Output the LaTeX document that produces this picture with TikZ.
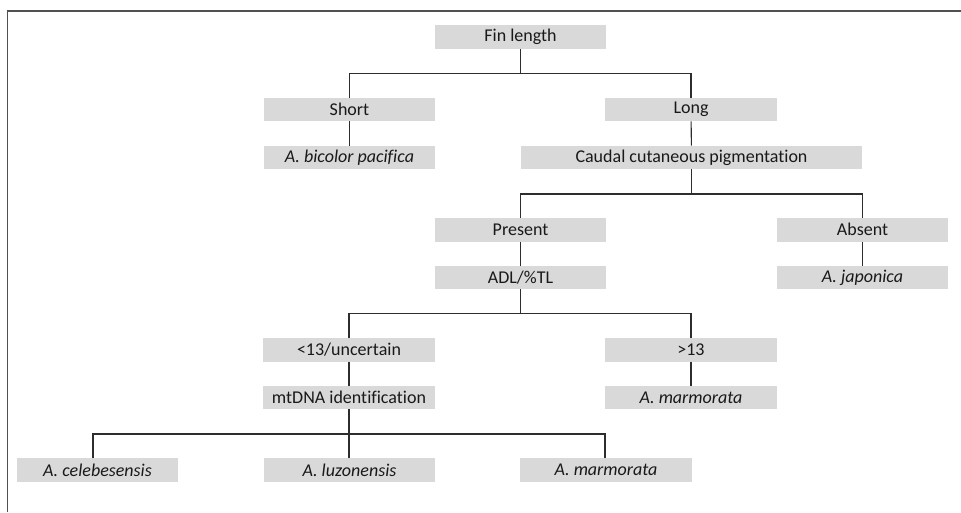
\documentclass[tikz,border=0pt]{standalone}
\usepackage{fontspec}
\setmainfont{Carlito}[Ligatures=NoCommon]
\definecolor{boxgray}{RGB}{217,217,217}
\definecolor{linegray}{RGB}{45,45,45}
\definecolor{framegray}{RGB}{80,80,80}
\begin{document}
\begin{tikzpicture}[x=1pt,y=-1pt,
  box/.style={fill=boxgray, draw=none, inner sep=0pt, minimum height=23.5pt, font=\fontsize{18}{20}\selectfont, text=black!90},
  w170/.style={minimum width=171pt},
  conn/.style={draw=linegray, line width=1.1pt}]
\useasboundingbox (0,0) rectangle (961,512);
\draw[framegray, line width=1.4pt] (7.5,512) -- (7.5,11) -- (961,11);

\node[box,w170] (fin) at (520.5,37) {Fin length};
\node[box,w170] (short) at (349.5,109.5) {Short};
\node[box,minimum width=172pt] (long) at (691,109.5) {Long};
\node[box,w170] (bicolor) at (349.5,157.5) {\itshape A. bicolor pacifica};
\node[box,minimum width=341pt] (caudal) at (691.5,157.5) {Caudal cutaneous pigmentation};
\node[box,w170] (present) at (520.5,229.75) {Present};
\node[box,w170] (absent) at (862.5,229.75) {Absent};
\node[box,w170] (adl) at (520.5,277.5) {ADL/\%TL};
\node[box,w170] (japonica) at (862.5,277.5) {\itshape A. japonica};
\node[box,minimum width=172pt] (lt) at (349,350) {<13/uncertain};
\node[box,minimum width=172pt] (gt) at (691,350) {>13};
\node[box,minimum width=172pt] (mtdna) at (349,397.5) {mtDNA identification};
\node[box,minimum width=172pt] (marm1) at (691,397.5) {\itshape A. marmorata};
\node[box,minimum width=161pt] (celeb) at (97.5,470) {\itshape A. celebesensis};
\node[box,w170] (luzon) at (349.5,470) {\itshape A. luzonensis};
\node[box,minimum width=172pt] (marm2) at (606,470) {\itshape A. marmorata};

\coordinate (b1) at (520.5,73.5);
\coordinate (b2) at (691.5,194);
\coordinate (b3) at (520.5,313.5);
\coordinate (b4) at (349,434);
\coordinate (c1) at (93,458);

\draw[conn] (fin.south) -- (b1);
\draw[conn] (short.north) |- (b1) -| (long.north);
\draw[conn] (short) -- (bicolor);
\draw[conn] (long) -- (caudal);
\draw[conn] (caudal.south) -- (b2);
\draw[conn] (present.north) |- (b2) -| (absent.north);
\draw[conn] (present) -- (adl);
\draw[conn] (absent) -- (japonica);
\draw[conn] (adl.south) -- (b3);
\draw[conn] (lt.north) |- (b3) -| (gt.north);
\draw[conn] (lt) -- (mtdna);
\draw[conn] (gt) -- (marm1);
\draw[conn] (mtdna.south) -- (b4);
\draw[conn] (c1) |- (b4) -| ([xshift=-1pt]marm2.north);
\draw[conn] (b4) -- ([xshift=-0.5pt]luzon.north);
\end{tikzpicture}
\end{document}
